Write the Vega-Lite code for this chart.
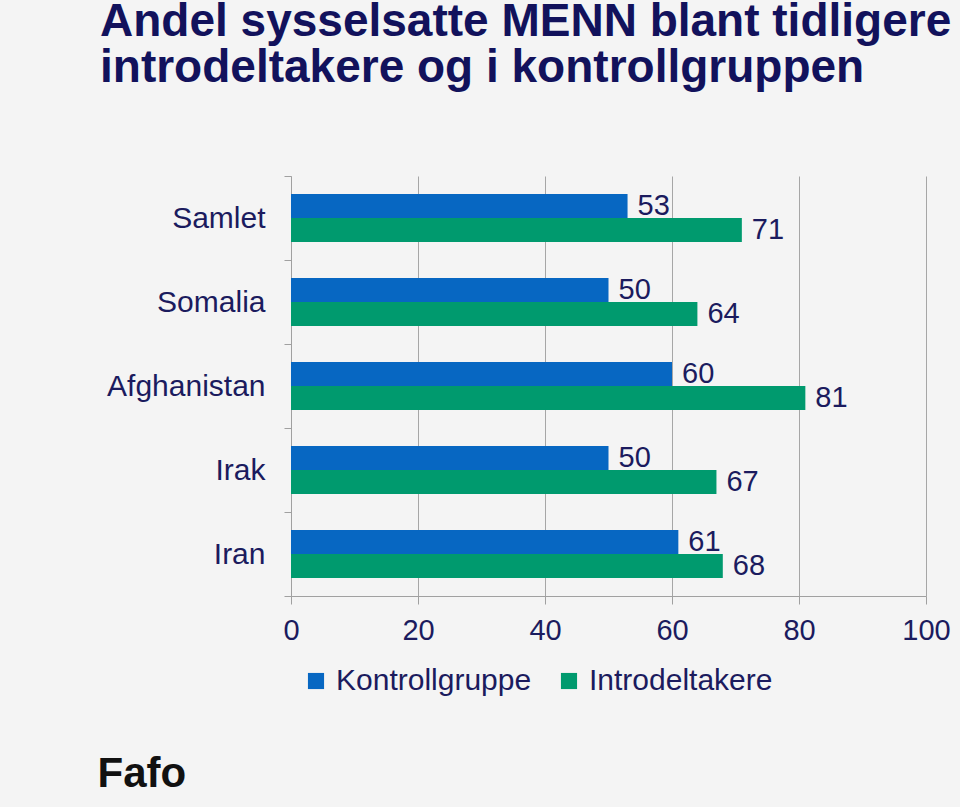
{
  "$schema": "https://vega.github.io/schema/vega-lite/v6.json",
  "width": 635,
  "height": 420,
  "autosize": "none",
  "padding": {"left": 291, "top": 176, "right": 34, "bottom": 211},
  "background": "#f4f4f4",
  "title": {
    "text": ["Andel sysselsatte MENN blant tidligere", "introdeltakere og i kontrollgruppen"],
    "anchor": "start",
    "frame": "group",
    "dx": -191,
    "dy": -33,
    "offset": 0,
    "baseline": "alphabetic",
    "font": "Liberation Sans",
    "fontSize": 46,
    "fontWeight": "bold",
    "color": "#12125c",
    "lineHeight": 46
  },
  "config": {
    "view": {"stroke": null},
    "axis": {"labelFont": "Liberation Sans", "titleFont": "Liberation Sans"},
    "legend": {"labelFont": "Liberation Sans"}
  },
  "data": {
    "values": [
      {"kat": "Samlet", "gruppe": "Kontrollgruppe", "verdi": 53},
      {"kat": "Samlet", "gruppe": "Introdeltakere", "verdi": 71},
      {"kat": "Somalia", "gruppe": "Kontrollgruppe", "verdi": 50},
      {"kat": "Somalia", "gruppe": "Introdeltakere", "verdi": 64},
      {"kat": "Afghanistan", "gruppe": "Kontrollgruppe", "verdi": 60},
      {"kat": "Afghanistan", "gruppe": "Introdeltakere", "verdi": 81},
      {"kat": "Irak", "gruppe": "Kontrollgruppe", "verdi": 50},
      {"kat": "Irak", "gruppe": "Introdeltakere", "verdi": 67},
      {"kat": "Iran", "gruppe": "Kontrollgruppe", "verdi": 61},
      {"kat": "Iran", "gruppe": "Introdeltakere", "verdi": 68}
    ]
  },
  "encoding": {
    "y": {
      "field": "kat",
      "type": "nominal",
      "sort": ["Samlet", "Somalia", "Afghanistan", "Irak", "Iran"],
      "scale": {"paddingInner": 0, "paddingOuter": 0},
      "axis": {
        "title": null,
        "tickBand": "extent",
        "tickSize": 7,
        "tickColor": "#a0a0a0",
        "domainColor": "#a0a0a0",
        "labelFontSize": 30,
        "labelColor": "#1b1b5e",
        "labelPadding": 19,
        "labelLimit": 0
      }
    },
    "yOffset": {
      "field": "gruppe",
      "type": "nominal",
      "sort": ["Kontrollgruppe", "Introdeltakere"],
      "scale": {"paddingInner": 0, "paddingOuter": 0.75}
    },
    "x": {
      "field": "verdi",
      "type": "quantitative",
      "scale": {"domain": [0, 100], "nice": false},
      "axis": {
        "values": [0, 20, 40, 60, 80, 100],
        "grid": true,
        "gridColor": "#a6a6a6",
        "tickColor": "#a0a0a0",
        "domainColor": "#a0a0a0",
        "tickSize": 8,
        "labelFontSize": 29,
        "labelColor": "#1b1b5e",
        "labelPadding": 12,
        "labelFlush": false,
        "title": "Fafo",
        "titleX": -194,
        "titleY": 177,
        "titleAlign": "left",
        "titleBaseline": "middle",
        "titleFontSize": 42,
        "titleFontWeight": "bold",
        "titleColor": "#111111"
      }
    }
  },
  "layer": [
    {
      "mark": {"type": "bar"},
      "encoding": {
        "color": {
          "field": "gruppe",
          "type": "nominal",
          "scale": {"domain": ["Kontrollgruppe", "Introdeltakere"], "range": ["#0767c2", "#009a6e"]},
          "legend": {
            "title": null,
            "orient": "none",
            "legendX": 10,
            "legendY": 490,
            "direction": "horizontal",
            "symbolType": "square",
            "symbolSize": 260,
            "symbolStrokeWidth": 0,
            "symbolOpacity": 1,
            "labelFontSize": 30,
            "labelColor": "#1b1b5e",
            "labelOffset": 5,
            "labelLimit": 0,
            "columnPadding": 22
          }
        }
      }
    },
    {
      "mark": {"type": "text", "align": "left", "baseline": "middle", "dx": 10, "fontSize": 29, "font": "Liberation Sans", "color": "#1b1b5e"},
      "encoding": {"text": {"field": "verdi", "type": "quantitative"}}
    }
  ]
}
